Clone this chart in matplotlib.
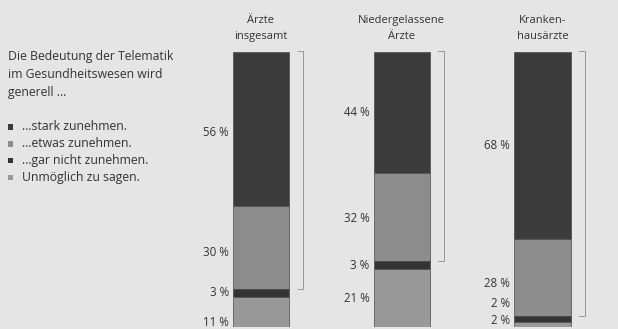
"""Stacked bars: expected importance of telematics in health care, by physician group."""
import matplotlib
matplotlib.use('Agg')
import matplotlib.pyplot as plt
from matplotlib.patches import Rectangle
import numpy as np

plt.rcParams['font.family'] = ['Open Sans', 'DejaVu Sans']

# ── Data ────────────────────────────────────────────────────────────
GROUPS = ['Ärzte\ninsgesamt', 'Niedergelassene\nÄrzte', 'Kranken-\nhausärzte']
CATEGORIES = ['…stark zunehmen.', '…etwas zunehmen.',
              '…gar nicht zunehmen.', 'Unmöglich zu sagen.']
STARK = [56, 44, 68]
ETWAS = [30, 32, 28]
GAR_NICHT = [3, 3, 2]
UNMOEGLICH = [11, 21, 2]
ZUNEHMEN_TOTAL = [86, 76, 96]

# stacked from top down: stark, etwas, gar nicht, unmöglich
SERIES = [STARK, ETWAS, GAR_NICHT, UNMOEGLICH]
COLORS = ['#3b3b3b', '#8d8d8d', '#343434', '#999999']

# pixel nudges for segment labels that would otherwise collide
NUDGE = [[-3, -5, 0, -11],
         [0, -2, 0, 0],
         [0, -6, 15, 4]]

BG = '#e5e5e5'
TXT = '#333333'

fig = plt.figure(figsize=(6.18, 3.29), dpi=100, facecolor=BG)

# overlay axes in pixel units for the free text on the left
ax_t = fig.add_axes([0, 0, 1, 1])
ax_t.set_xlim(0, 618)
ax_t.set_ylim(329, 0)
ax_t.axis('off')

ax_t.text(8, 50, 'Die Bedeutung der Telematik\nim Gesundheitswesen wird\ngenerell …',
          fontsize=8.8, color=TXT, va='top', ha='left', linespacing=1.5)

for i, (cat, col) in enumerate(zip(CATEGORIES, COLORS)):
    y = 127 + i * 16.8
    ax_t.add_patch(Rectangle((7.5, y - 2.8), 5.5, 5.5, color=col, lw=0))
    ax_t.text(22, y, cat, fontsize=8.8, color=TXT, va='center', ha='left')

# ── Bars ────────────────────────────────────────────────────────────
ax = fig.add_axes([190.6 / 618, 2 / 329, 422.3 / 618, 275 / 329])
ax.set_facecolor('none')
ax.set_xlim(-0.5, 2.5)
ax.set_ylim(0, 100)
ax.axis('off')

x = np.arange(len(GROUPS))
width = 0.40
tops = np.full(len(GROUPS), 100.0)
for k, (vals, col) in enumerate(zip(SERIES, COLORS)):
    vals = np.array(vals, dtype=float)
    bottoms = tops - vals
    ax.bar(x, vals, width, bottom=bottoms, color=col,
           edgecolor='#4a4a4a', linewidth=0.5, zorder=2)
    for i in range(len(GROUPS)):
        ax.annotate(f'{int(vals[i])} %', (x[i] - width / 2, bottoms[i] + vals[i] / 2),
                    xytext=(-4, NUDGE[i][k]), textcoords='offset pixels',
                    ha='right', va='center', fontsize=8.3, color=TXT)
    tops = bottoms

# brackets for "zunehmen" share (stark + etwas)
for i, tot in enumerate(ZUNEHMEN_TOTAL):
    bx = x[i] + 0.30
    y0 = 100 - tot
    ax.plot([bx - 0.04, bx, bx, bx - 0.04], [100.5, 100.5, y0, y0],
            color='#8a8a8a', lw=0.6, zorder=1, clip_on=False)
    ax.annotate(f'{tot} %', (bx, 100.5), xytext=(4, 0), textcoords='offset pixels',
                ha='left', va='top', fontsize=8.3, color=TXT)
    ax.annotate(GROUPS[i], (x[i], 100), xytext=(0, 10), textcoords='offset pixels',
                ha='center', va='bottom', fontsize=8.0, color=TXT,
                linespacing=1.6, annotation_clip=False)

fig.savefig('out.png', dpi=100, facecolor=fig.get_facecolor())
